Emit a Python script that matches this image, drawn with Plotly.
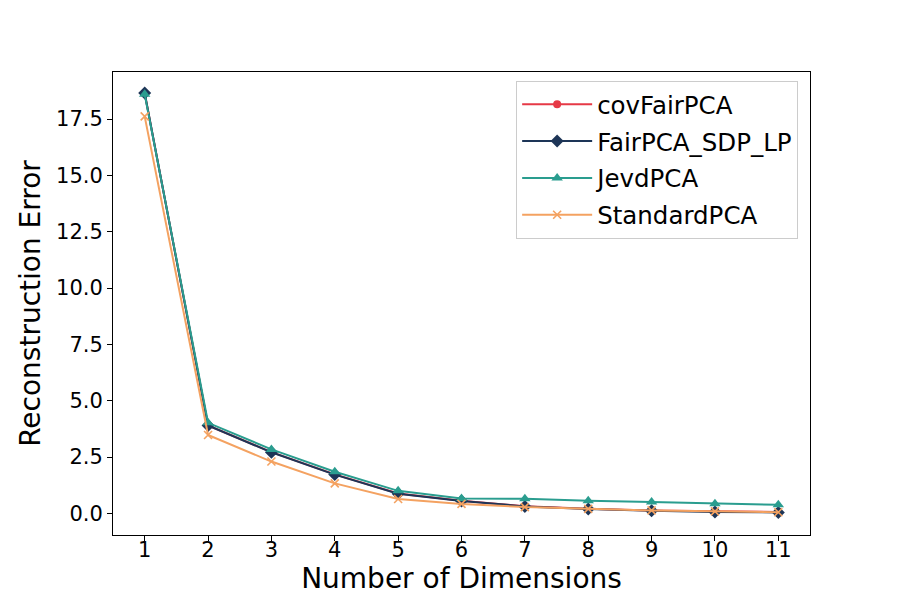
import plotly.graph_objects as go

# 次元数ごとの再構成誤差
dimensions = [1, 2, 3, 4, 5, 6, 7, 8, 9, 10, 11]
cov_fair_pca = [18.65, 3.90, 2.72, 1.73, 0.88, 0.56, 0.32, 0.20, 0.13, 0.08, 0.06]
fair_pca_sdp_lp = [18.66, 3.90, 2.71, 1.72, 0.87, 0.55, 0.31, 0.19, 0.12, 0.06, 0.04]
jevd_pca = [18.60, 4.02, 2.84, 1.85, 1.00, 0.66, 0.65, 0.56, 0.51, 0.43, 0.38]
standard_pca = [17.62, 3.48, 2.30, 1.33, 0.64, 0.42, 0.28, 0.20, 0.13, 0.09, 0.05]

y_tick_values = [0.0, 2.5, 5.0, 7.5, 10.0, 12.5, 15.0, 17.5]

font_family = 'DejaVu Sans'

series = [
    ('covFairPCA', cov_fair_pca, '#e63946', 'circle', 8),
    ('FairPCA_SDP_LP', fair_pca_sdp_lp, '#1d3557', 'diamond', 10),
    ('JevdPCA', jevd_pca, '#2a9d8f', 'triangle-up', 10),
    ('StandardPCA', standard_pca, '#f4a261', 'x-thin', 8),
]

fig = go.Figure()
for name, values, color, symbol, size in series:
    marker = dict(symbol = symbol, size = size, color = color)
    # x印は線で描かれるので線幅を指定
    if symbol == 'x-thin':
        marker['line'] = dict(width = 1.6, color = color)
    fig.add_trace(go.Scatter(x = dimensions, y = values, name = name, mode = 'lines+markers',
                             legendgroup = name,
                             line = dict(color = color, width = 2), marker = marker))

axis_common = dict(showline = True, linecolor = 'black', linewidth = 1, mirror = True,
                   ticks = 'outside', ticklen = 5, tickwidth = 1, tickcolor = 'black',
                   showgrid = False, zeroline = False, automargin = False,
                   tickfont = dict(family = font_family, size = 21, color = 'black'))

fig.update_xaxes(title = dict(text = 'Number of Dimensions', standoff = 4,
                              font = dict(family = font_family, size = 28, color = 'black')),
                 range = [0.5, 11.5], tickmode = 'array', tickvals = dimensions,
                 ticklabelstandoff = -9, **axis_common)
fig.update_yaxes(title = dict(text = 'Reconstruction Error', standoff = 7,
                              font = dict(family = font_family, size = 28, color = 'black')),
                 range = [-0.96, 19.59], tickmode = 'array', tickvals = y_tick_values,
                 tickformat = '.1f', **axis_common)

# ページの余白(約8px)を見込んで余白を調整
fig.update_layout(width = 900, height = 600,
                  margin = dict(l = 105, r = 98, t = 64, b = 73),
                  plot_bgcolor = 'white', paper_bgcolor = 'white',
                  font = dict(family = font_family, color = 'black'),
                  legend = dict(x = 0.983, y = 0.981, xanchor = 'right', yanchor = 'top',
                                bordercolor = '#cccccc', borderwidth = 1, bgcolor = 'rgba(255,255,255,0.8)',
                                font = dict(family = font_family, size = 24.5, color = 'black'),
                                itemwidth = 70,
                                tracegroupgap = 2, traceorder = 'grouped'))

fig.write_html('out.html')
